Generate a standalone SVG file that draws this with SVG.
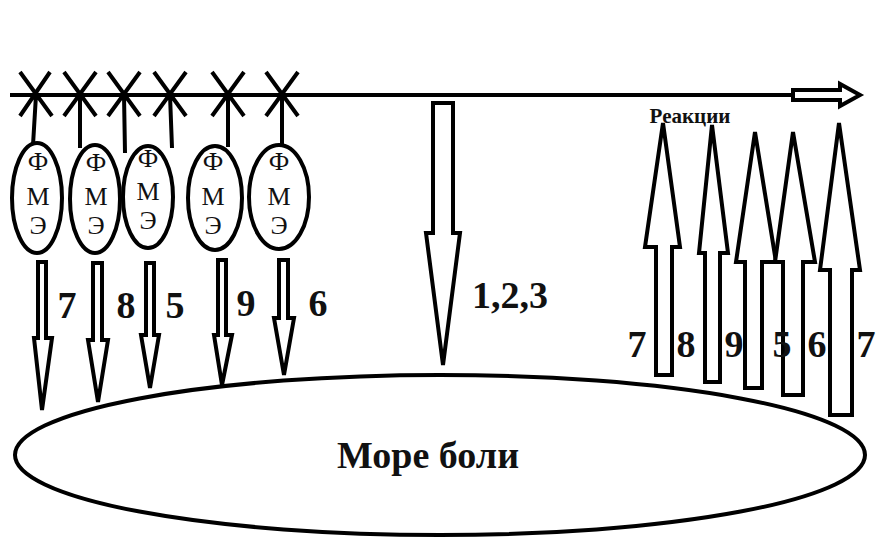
<svg xmlns="http://www.w3.org/2000/svg" width="883" height="550" viewBox="0 0 883 550">
<style>
.l{stroke:#000;stroke-width:4;fill:none}
.o{stroke:#000;stroke-width:4;fill:#fff;stroke-linejoin:miter}
.s{font-family:"Liberation Serif",serif;font-size:26px;text-anchor:middle;fill:#111}
.b{font-family:"Liberation Serif",serif;font-weight:bold;font-size:38px;text-anchor:middle;fill:#111}
</style>
<rect width="883" height="550" fill="#fff"/>
<g id="sea"><ellipse class="o" cx="440" cy="455" rx="425" ry="80"/>
<text class="b" x="428" y="468" font-size="42">Море боли</text></g>
<g id="timeline"><path class="l" d="M10 95H793"/><path class="o" d="M793 90H840V84L860 95L840 106V100H793Z"/>
<text class="b" x="690" y="123" style="font-size:21px">Реакции</text></g>
<g id="crosses" class="l">
<path d="M20 72L52 116M50 72L20 116M36 95L33 145"/>
<path d="M64 72L96 116M96 72L64 116M80 95L80 148"/>
<path d="M108 72L140 116M140 72L108 116M124 95L125 153"/>
<path d="M154 72L186 116M186 72L154 116M170 95L172 148"/>
<path d="M212 72L244 116M244 72L212 116M228 95L228 147"/>
<path d="M266 72L298 116M298 72L266 116M282 95L282 147"/>
</g>
<g id="fme1"><ellipse class="o" cx="37" cy="198" rx="25" ry="55"/><text class="s" x="38" y="170">Ф</text><text class="s" x="38" y="205">М</text><text class="s" x="38" y="234">Э</text></g>
<g id="fme2"><ellipse class="o" cx="95" cy="199" rx="25" ry="54"/><text class="s" x="96" y="171">Ф</text><text class="s" x="96" y="205">М</text><text class="s" x="96" y="234">Э</text></g>
<g id="fme3"><ellipse class="o" cx="148" cy="197" rx="25" ry="51"/><text class="s" x="148" y="167">Ф</text><text class="s" x="148" y="200">М</text><text class="s" x="148" y="229">Э</text></g>
<g id="fme4"><ellipse class="o" cx="215" cy="198" rx="27" ry="52"/><text class="s" x="213" y="170">Ф</text><text class="s" x="213" y="205">М</text><text class="s" x="213" y="234">Э</text></g>
<g id="fme5"><ellipse class="o" cx="279" cy="197" rx="30" ry="52"/><text class="s" x="279" y="170">Ф</text><text class="s" x="279" y="205">М</text><text class="s" x="279" y="234">Э</text></g>
<g id="connectors">
<path class="o" d="M38 262H46V338H52L42 410L34 338H38Z"/>
<path class="o" d="M93 263H102V340H108L98 402L88 340H93Z"/>
<path class="o" d="M146 263H154V335H159L150 388L141 335H146Z"/>
<path class="o" d="M218 260H226V335H232L222 385L214 335H218Z"/>
<path class="o" d="M279 260H288V318H294L284 375L274 318H279Z"/>
<path class="o" d="M433 103H453V233H460L443 365L426 233H433Z"/>
<path class="o" d="M656 375H672V247H680L663 123L645 247H656Z"/>
<path class="o" d="M705 382H720V253H728L712 125L699 253H705Z"/>
<path class="o" d="M745 388H762V262H776L755 132L736 262H745Z"/>
<path class="o" d="M783 395H803V262H815L793 132L775 262H783Z"/>
<path class="o" d="M830 415H852V270H860L839 123L820 270H830Z"/>
</g>
<g id="labels">
<text class="b" x="67" y="318">7</text><text class="b" x="126" y="318">8</text><text class="b" x="175" y="318">5</text><text class="b" x="246" y="316">9</text><text class="b" x="318" y="316">6</text>
<text class="b" x="510" y="308">1,2,3</text>
<text class="b" x="637" y="357">7</text><text class="b" x="686" y="357">8</text><text class="b" x="734" y="357">9</text><text class="b" x="782" y="357">5</text><text class="b" x="817" y="357">6</text><text class="b" x="866" y="357">7</text>
</g>
</svg>
